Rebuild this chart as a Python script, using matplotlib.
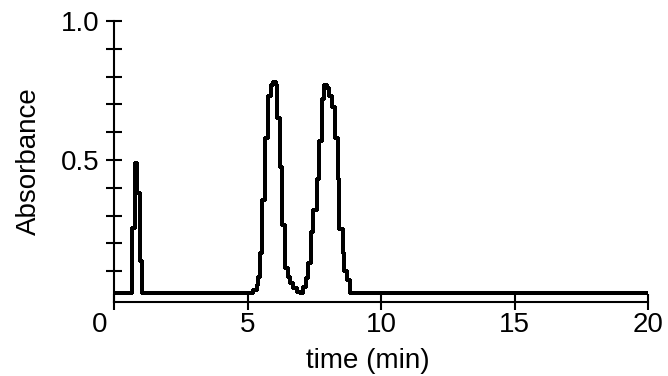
import matplotlib
matplotlib.use("Agg")
import matplotlib.pyplot as plt
import matplotlib.transforms as mtransforms
from matplotlib.ticker import FixedLocator

# chromatogram (step trace)
time_min = [0.0, 0.69, 0.79, 0.86, 0.99, 1.04,
            5.22, 5.37, 5.40, 5.48, 5.55, 5.67, 5.78, 5.89, 5.97, 6.08,
            6.12, 6.23, 6.30, 6.42, 6.53, 6.60, 6.72, 6.87, 6.98,
            7.09, 7.20, 7.28, 7.39, 7.47, 7.62, 7.69, 7.80, 7.88, 7.99,
            8.07, 8.18, 8.26, 8.37, 8.44, 8.56, 8.63, 8.74, 8.82, 20.0]
absorbance = [0.022, 0.255, 0.49, 0.38, 0.137, 0.022,
              0.032, 0.05, 0.08, 0.165, 0.356, 0.58, 0.73, 0.77, 0.78, 0.77,
              0.65, 0.475, 0.266, 0.11, 0.08, 0.058, 0.04, 0.025, 0.022,
              0.043, 0.075, 0.13, 0.24, 0.32, 0.43, 0.57, 0.72, 0.77, 0.76,
              0.73, 0.69, 0.58, 0.43, 0.25, 0.165, 0.10, 0.068, 0.022, 0.022]

x_ticks = [0, 5, 10, 15, 20]
x_labels = ['0', '5', '10', '15', '20']
y_ticks = [0.5, 1.0]
y_labels = ['0.5', '1.0']
y_minor = [0.1, 0.2, 0.3, 0.4, 0.6, 0.7, 0.8, 0.9]

plt.rcParams['font.family'] = ['Liberation Sans', 'DejaVu Sans']
plt.rcParams['font.size'] = 20

fig = plt.figure(figsize=(6.68, 3.76), dpi=100)
ax = fig.add_axes([0.1707, 0.1968, 0.7994, 0.7473])

ax.plot(time_min, absorbance, drawstyle='steps-post', color='black',
        linewidth=1.5, antialiased=False)

ax.set_xlim(0, 20)
ax.set_ylim(-0.011, 1.0)

for side in ['top', 'right']:
    ax.spines[side].set_visible(False)
for side in ['left', 'bottom']:
    ax.spines[side].set_linewidth(1.5)

ax.set_xticks(x_ticks)
ax.set_xticklabels(x_labels)
ax.set_yticks(y_ticks)
ax.set_yticklabels(y_labels)
ax.yaxis.set_minor_locator(FixedLocator(y_minor))

ax.tick_params(axis='both', which='both', direction='inout', length=11,
               width=1.5, color='black')
ax.tick_params(axis='y', which='both', pad=5)
ax.tick_params(axis='x', which='both', pad=2)

# the "0" under the corner sits a little left of the axis
lbl0 = ax.get_xticklabels()[0]
lbl0.set_transform(lbl0.get_transform() +
                   mtransforms.ScaledTranslation(-14 / 100, 0, fig.dpi_scale_trans))

ax.set_xlabel('time (min)')
ax.xaxis.set_label_coords((368 - 114) / 534, -0.165)
ax.set_ylabel('Absorbance')
ax.yaxis.set_label_coords(-0.135, 0.5)

fig.savefig('out.png', dpi=100)
